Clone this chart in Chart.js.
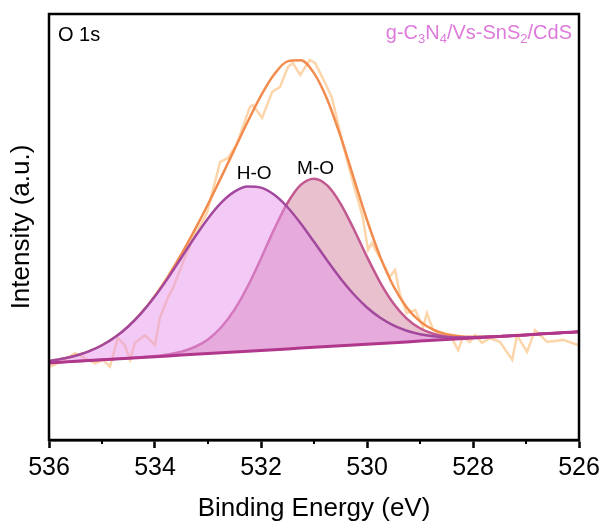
<!DOCTYPE html>
<html lang="en">
<head>
  <meta charset="UTF-8">
  <title>O 1s XPS</title>
  <script src="https://cdn.jsdelivr.net/npm/chart.js"></script>
  <style>
    body {
      margin: 0;
      padding: 0;
      background: #fff;
    }
    #wrap {
      width: 605px;
      height: 526px;
    }
  </style>
</head>
<body>
  <div id="wrap"><canvas id="xps" width="605" height="526"></canvas></div>

  <script>
    // fitted curves are sampled every 0.25 eV
    const energy = [536, 535.75, 535.5, 535.25, 535, 534.75, 534.5, 534.25, 534, 533.75, 533.5, 533.25, 533,
      532.75, 532.5, 532.25, 532, 531.75, 531.5, 531.25, 531, 530.75, 530.5, 530.25, 530, 529.75, 529.5,
      529.25, 529, 528.75, 528.5, 528.25, 528, 527.75, 527.5, 527.25, 527, 526.75, 526.5, 526.25, 526];

    const background = [18.1, 18.28, 18.46, 18.65, 18.83, 19.01, 19.2, 19.38, 19.56, 19.74, 19.93, 20.11, 20.29,
      20.48, 20.66, 20.84, 21.02, 21.21, 21.39, 21.57, 21.75, 21.94, 22.12, 22.3, 22.48, 22.67, 22.85,
      23.03, 23.22, 23.4, 23.58, 23.76, 23.95, 24.13, 24.31, 24.49, 24.67, 24.86, 25.04, 25.22, 25.4];

    const hoPeak = [18.54, 19.06, 19.78, 20.81, 22.24, 24.16, 26.71, 29.9, 33.74, 38.12, 42.85, 47.61, 52.02,
      55.72, 58.3, 59.51, 59.24, 57.55, 54.64, 50.83, 46.52, 42.11, 37.92, 34.21, 31.11, 28.69, 26.89,
      25.64, 24.84, 24.37, 24.14, 24.07, 24.11, 24.21, 24.35, 24.49, 24.67, 24.86, 25.04, 25.22, 25.4];

    const moPeak = [18.1, 18.28, 18.46, 18.65, 18.83, 19.02, 19.22, 19.44, 19.71, 20.1, 20.75, 21.83, 23.62,
      26.47, 30.59, 36.08, 42.62, 49.5, 55.63, 59.87, 61.35, 59.76, 55.51, 49.54, 43.01, 36.97, 32.06,
      28.51, 26.23, 24.93, 24.3, 24.07, 24.08, 24.18, 24.33, 24.49, 24.67, 24.86, 25.04, 25.22, 25.4];

    const envelope = [18.54, 19.06, 19.78, 20.81, 22.24, 24.17, 26.73, 29.96, 33.89, 38.48, 43.67, 49.33, 55.35,
      61.71, 68.23, 74.75, 80.84, 85.84, 88.88, 89.13, 86.12, 79.93, 71.31, 61.45, 51.64, 42.99, 36.1,
      31.12, 27.85, 25.9, 24.86, 24.38, 24.24, 24.26, 24.37, 24.49, 24.67, 24.86, 25.04, 25.22, 25.4];

    // measured spectrum
    const rawEnergy = [535.98, 535.76, 535.51, 535.32, 535.13, 534.98, 534.85, 534.70, 534.57, 534.47, 534.38,
      534.19, 534.00, 533.91, 533.75, 533.66, 533.49, 533.30, 533.19, 533.02, 532.77, 532.62, 532.45,
      532.21, 532.15, 531.98, 531.79, 531.64, 531.49, 531.40, 531.26, 531.08, 530.98, 530.79, 530.66,
      530.45, 530.26, 530.08, 529.98, 529.91, 529.66, 529.57, 529.47, 529.38, 529.25, 529.09, 528.94,
      528.87, 528.75, 528.57, 528.40, 528.28, 528.19, 528.06, 527.96, 527.83, 527.68, 527.49, 527.26,
      527.17, 526.98, 526.83, 526.60, 526.30, 526.02];
    const rawCounts = [17.2, 18.4, 20.4, 19.2, 18.0, 18.8, 17.2, 23.9, 22.3, 18.8, 22.8, 24.6, 22.3, 28.6,
      33.6, 35.7, 41.1, 46.9, 49.3, 53.3, 65.3, 66.2, 69.7, 78.2, 78.6, 75.6, 81.7, 82.9, 87.6, 88.5,
      85.7, 89.2, 88.5, 83.8, 80.3, 69.2, 60.3, 52.3, 44.6, 46.2, 40.6, 38.3, 39.9, 34.3, 29.8, 30.5,
      26.5, 29.8, 25.8, 24.6, 23.9, 21.1, 24.2, 23.0, 24.6, 22.8, 23.9, 23.0, 18.8, 24.6, 20.7, 25.8,
      23.0, 23.5, 22.3];

    const majorTicks = [536, 534, 532, 530, 528, 526];
    const minorTicks = [535, 533, 531, 529, 527];

    const peakNames = ['H-O', 'M-O'];
    const peakCentres = [532.13, 530.97];

    const FONT = "'Liberation Sans', Arial, sans-serif";

    function pts(xs, ys) {
      return xs.map((x, i) => ({ x: x, y: ys[i] }));
    }

    // frame, minor ticks and text labels
    const decorations = {
      id: 'decorations',
      afterDraw(chart) {
        const ctx = chart.ctx;
        const a = chart.chartArea;
        const xs = chart.scales.x;
        const ys = chart.scales.y;
        ctx.save();

        ctx.strokeStyle = '#000';
        ctx.lineWidth = 2;
        minorTicks.forEach(v => {
          const px = xs.getPixelForValue(v);
          ctx.beginPath();
          ctx.moveTo(px, a.bottom);
          ctx.lineTo(px, a.bottom + 4);
          ctx.stroke();
        });

        ctx.lineWidth = 2.5;
        ctx.strokeRect(a.left, a.top, a.right - a.left, a.bottom - a.top);

        ctx.fillStyle = '#000';
        ctx.textBaseline = 'middle';
        ctx.textAlign = 'left';
        ctx.font = '20px ' + FONT;
        ctx.fillText('O 1s', a.left + 9, a.top + 21);

        // peak names above each component
        ctx.textAlign = 'center';
        ctx.font = '19px ' + FONT;
        const comps = [hoPeak, moPeak];
        peakNames.forEach((name, i) => {
          const top = Math.max.apply(null, comps[i]);
          const dy = i === 0 ? 13 : 10;
          ctx.fillText(name, xs.getPixelForValue(peakCentres[i]), ys.getPixelForValue(top) - dy);
        });

        // sample name with subscripts, right aligned
        const parts = [['g-C', 0], ['3', 1], ['N', 0], ['4', 1], ['/Vs-SnS', 0], ['2', 1], ['/CdS', 0]];
        const big = '20px ' + FONT;
        const small = '13px ' + FONT;
        let w = 0;
        parts.forEach(p => {
          ctx.font = p[1] ? small : big;
          w += ctx.measureText(p[0]).width;
        });
        let x = a.right - 7 - w;
        const y = a.top + 25;
        ctx.fillStyle = '#DD7ADB';
        ctx.textAlign = 'left';
        ctx.textBaseline = 'alphabetic';
        parts.forEach(p => {
          ctx.font = p[1] ? small : big;
          ctx.fillText(p[0], x, p[1] ? y + 4 : y);
          x += ctx.measureText(p[0]).width;
        });

        ctx.restore();
      }
    };

    new Chart(document.getElementById('xps'), {
      type: 'line',
      data: {
        datasets: [
          {
            label: 'Background',
            data: pts(energy, background),
            borderColor: '#B0378C',
            borderWidth: 3,
            fill: false,
            order: 0
          },
          {
            label: 'H-O',
            data: pts(energy, hoPeak),
            borderColor: '#A2499E',
            borderWidth: 2.5,
            backgroundColor: 'rgba(230, 150, 235, 0.5)',
            fill: { target: 0 },
            cubicInterpolationMode: 'monotone',
            order: 1
          },
          {
            label: 'M-O',
            data: pts(energy, moPeak),
            borderColor: '#C2588F',
            borderWidth: 2.5,
            backgroundColor: 'rgba(215, 140, 165, 0.55)',
            fill: { target: 0 },
            cubicInterpolationMode: 'monotone',
            order: 2
          },
          {
            label: 'Envelope',
            data: pts(energy, envelope),
            borderColor: '#F28C4E',
            borderWidth: 2.5,
            fill: false,
            cubicInterpolationMode: 'monotone',
            order: 3
          },
          {
            label: 'Raw',
            data: pts(rawEnergy, rawCounts),
            borderColor: '#FDD5AA',
            borderWidth: 2.5,
            fill: false,
            tension: 0,
            order: 4
          }
        ]
      },
      options: {
        responsive: false,
        animation: false,
        events: [],
        elements: { point: { radius: 0 } },
        layout: { padding: { top: 14, right: 26, left: 0, bottom: 0 } },
        plugins: {
          legend: { display: false },
          tooltip: { enabled: false }
        },
        scales: {
          x: {
            type: 'linear',
            reverse: true,
            min: 526,
            max: 536,
            afterBuildTicks: scale => {
              scale.ticks = majorTicks.map(v => ({ value: v }));
            },
            afterFit: scale => { scale.height = 86; },
            ticks: {
              color: '#000',
              padding: 5,
              maxRotation: 0,
              font: { family: FONT, size: 25 }
            },
            grid: {
              drawOnChartArea: false,
              drawTicks: true,
              tickLength: 8,
              tickWidth: 2.5,
              tickColor: '#000'
            },
            border: { display: true, color: '#000', width: 2.5 },
            title: {
              display: true,
              text: 'Binding Energy (eV)',
              color: '#000',
              padding: { top: 0, bottom: 2 },
              font: { family: FONT, size: 26 }
            }
          },
          y: {
            min: 0,
            max: 100,
            afterFit: scale => { scale.width = 49; },
            ticks: { display: false },
            grid: { display: false, drawTicks: false },
            border: { display: false },
            title: {
              display: true,
              text: 'Intensity (a.u.)',
              color: '#000',
              padding: { top: 6, bottom: 0 },
              font: { family: FONT, size: 26 }
            }
          }
        }
      },
      plugins: [decorations]
    });
  </script>
</body>
</html>
